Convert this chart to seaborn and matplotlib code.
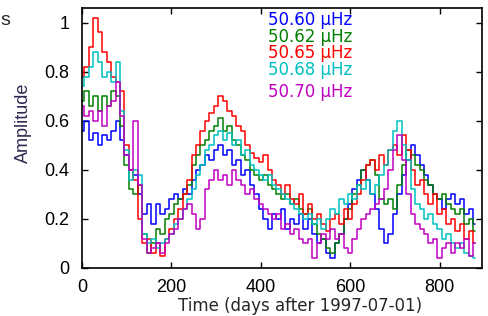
import numpy as np
import pandas as pd
import seaborn as sns
import matplotlib
matplotlib.use("Agg")
import matplotlib.pyplot as plt

# amplitude, one value every 10 days from day 0 to 880
days = np.arange(0, 890, 10)

amp_5060 = [0.56, 0.60, 0.52, 0.55, 0.50, 0.54, 0.52, 0.56, 0.60, 0.52,
            0.46, 0.40, 0.38, 0.30, 0.22, 0.26, 0.18, 0.26, 0.22, 0.24,
            0.28, 0.30, 0.28, 0.32, 0.30, 0.36, 0.40, 0.42, 0.46, 0.44,
            0.48, 0.50, 0.46, 0.48, 0.42, 0.44, 0.38, 0.40, 0.34, 0.30,
            0.24, 0.20, 0.16, 0.22, 0.20, 0.24, 0.16, 0.20, 0.18, 0.22,
            0.16, 0.20, 0.14, 0.10, 0.12, 0.06, 0.04, 0.10, 0.14, 0.20,
            0.26, 0.32, 0.36, 0.40, 0.36, 0.30, 0.24, 0.16, 0.10, 0.14,
            0.22, 0.30, 0.38, 0.44, 0.50, 0.46, 0.42, 0.38, 0.34, 0.30,
            0.28, 0.24, 0.28, 0.30, 0.26, 0.28, 0.22, 0.24, 0.18]
amp_5062 = [0.68, 0.72, 0.66, 0.70, 0.64, 0.70, 0.66, 0.72, 0.70, 0.58,
            0.42, 0.32, 0.30, 0.34, 0.14, 0.06, 0.10, 0.16, 0.14, 0.20,
            0.22, 0.26, 0.28, 0.30, 0.34, 0.42, 0.46, 0.50, 0.52, 0.56,
            0.58, 0.61, 0.56, 0.58, 0.52, 0.50, 0.46, 0.44, 0.40, 0.38,
            0.36, 0.38, 0.34, 0.32, 0.30, 0.28, 0.30, 0.26, 0.28, 0.24,
            0.22, 0.24, 0.18, 0.14, 0.12, 0.08, 0.06, 0.10, 0.14, 0.20,
            0.24, 0.30, 0.34, 0.40, 0.42, 0.44, 0.38, 0.28, 0.26, 0.28,
            0.24, 0.34, 0.42, 0.48, 0.46, 0.42, 0.40, 0.36, 0.34, 0.30,
            0.28, 0.30, 0.26, 0.24, 0.22, 0.24, 0.18, 0.20, 0.15]
amp_5065 = [0.78, 0.82, 0.90, 1.02, 0.96, 0.88, 0.84, 0.78, 0.76, 0.72,
            0.50, 0.40, 0.36, 0.20, 0.10, 0.12, 0.06, 0.10, 0.05, 0.12,
            0.16, 0.20, 0.24, 0.30, 0.36, 0.46, 0.50, 0.56, 0.60, 0.63,
            0.66, 0.70, 0.68, 0.64, 0.62, 0.58, 0.56, 0.50, 0.47, 0.45,
            0.43, 0.46, 0.40, 0.36, 0.34, 0.30, 0.34, 0.28, 0.26, 0.30,
            0.22, 0.26, 0.20, 0.22, 0.18, 0.15, 0.20, 0.22, 0.18, 0.24,
            0.20, 0.26, 0.30, 0.36, 0.42, 0.44, 0.40, 0.46, 0.42, 0.48,
            0.50, 0.46, 0.54, 0.48, 0.40, 0.34, 0.36, 0.30, 0.26, 0.30,
            0.22, 0.24, 0.18, 0.20, 0.15, 0.18, 0.12, 0.15, 0.10]
amp_5068 = [0.74, 0.78, 0.82, 0.88, 0.84, 0.78, 0.80, 0.76, 0.84, 0.64,
            0.48, 0.36, 0.40, 0.38, 0.14, 0.10, 0.12, 0.08, 0.10, 0.12,
            0.14, 0.18, 0.20, 0.24, 0.28, 0.32, 0.38, 0.42, 0.48, 0.50,
            0.54, 0.56, 0.52, 0.55, 0.50, 0.52, 0.46, 0.48, 0.42, 0.40,
            0.38, 0.36, 0.38, 0.34, 0.32, 0.30, 0.28, 0.26, 0.24, 0.22,
            0.20, 0.22, 0.18, 0.20, 0.16, 0.20, 0.24, 0.22, 0.28, 0.26,
            0.30, 0.28, 0.34, 0.32, 0.36, 0.30, 0.34, 0.38, 0.42, 0.48,
            0.56, 0.60, 0.50, 0.44, 0.32, 0.26, 0.24, 0.20, 0.22, 0.18,
            0.16, 0.12, 0.14, 0.10, 0.08, 0.10, 0.06, 0.05, 0.04]
amp_5070 = [0.66, 0.62, 0.64, 0.60, 0.64, 0.58, 0.66, 0.68, 0.76, 0.62,
            0.46, 0.40, 0.60, 0.34, 0.12, 0.06, 0.08, 0.10, 0.06, 0.10,
            0.14, 0.16, 0.20, 0.24, 0.26, 0.22, 0.16, 0.20, 0.32, 0.36,
            0.40, 0.36, 0.38, 0.34, 0.40, 0.36, 0.34, 0.30, 0.32, 0.28,
            0.26, 0.24, 0.22, 0.20, 0.22, 0.16, 0.18, 0.14, 0.16, 0.12,
            0.10, 0.12, 0.04, 0.10, 0.14, 0.12, 0.16, 0.12, 0.14, 0.08,
            0.06, 0.12, 0.16, 0.20, 0.22, 0.24, 0.26, 0.28, 0.32, 0.40,
            0.48, 0.54, 0.44, 0.30, 0.22, 0.18, 0.16, 0.14, 0.10, 0.12,
            0.04, 0.08, 0.10, 0.06, 0.10, 0.08, 0.12, 0.05, 0.10]

labels = ["50.60 \u00b5Hz", "50.62 \u00b5Hz", "50.65 \u00b5Hz", "50.68 \u00b5Hz", "50.70 \u00b5Hz"]
colors = ["#0000ff", "#008000", "#ff0000", "#00c0c0", "#c000c0"]
series = [amp_5060, amp_5062, amp_5065, amp_5068, amp_5070]

df = pd.concat([pd.DataFrame({"day": days, "amp": s, "freq": lab})
                for s, lab in zip(series, labels)], ignore_index=True)

sns.set_style("ticks", {"xtick.direction": "in", "ytick.direction": "in"})
plt.rcParams["font.family"] = ["Liberation Sans", "DejaVu Sans"]

fig = plt.figure(figsize=(4.88, 3.16), dpi=100)
ax = fig.add_axes([0.168, 0.152, 0.820, 0.823])

sns.lineplot(data=df, x="day", y="amp", hue="freq", palette=colors,
             drawstyle="steps-mid", linewidth=1.1, legend=False, ax=ax)

ax.set_xlim(0, 895)
ax.set_ylim(0, 1.06)
ax.set_xticks([0, 200, 400, 600, 800])
ax.set_yticks([0, 0.2, 0.4, 0.6, 0.8, 1])
ax.set_yticklabels(["0", "0.2", "0.4", "0.6", "0.8", "1"])
ax.tick_params(top=True, right=True, direction="in", length=4, width=1,
               labelsize=13, colors="black")
ax.tick_params(axis="y", pad=9)
ax.tick_params(axis="x", pad=8)
for sp in ax.spines.values():
    sp.set_linewidth(1.2)
    sp.set_color("black")

ax.set_xlabel("Time (days after 1997-07-01)", fontsize=12,
              family=["DejaVu Sans"])
ax.xaxis.set_label_coords(0.545, -0.11)
ax.set_ylabel("Amplitude", fontsize=13, color="#302850")
ax.yaxis.set_label_coords(-0.125, 0.56)

# coloured frequency labels in place of a legend
ys = [0.955, 0.89, 0.825, 0.76, 0.675]
for lab, c, y in zip(labels, colors, ys):
    ax.text(0.465, y, lab, color=c, fontsize=12, transform=ax.transAxes,
            va="center", ha="left", family=["DejaVu Sans"])

fig.text(0.0, 0.935, "s", fontsize=14, ha="left", va="center")

fig.savefig("out.png", dpi=100)
